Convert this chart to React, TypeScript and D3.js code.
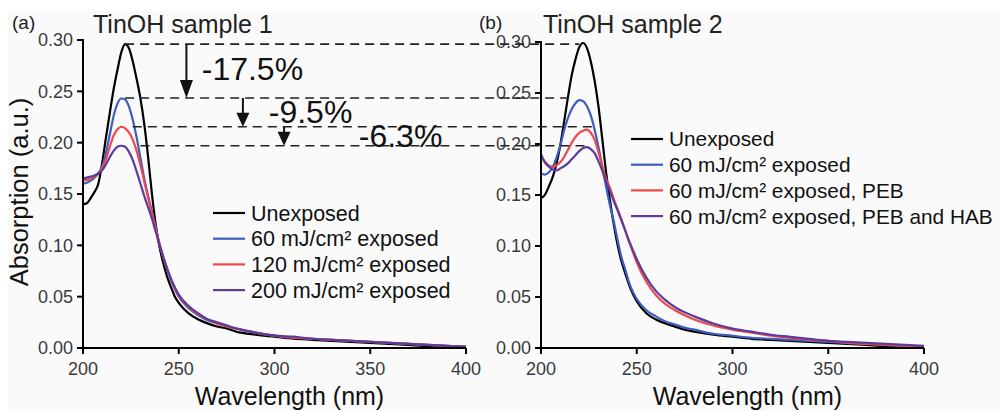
import React from "react";
import * as d3 from "d3";

const wl = [200, 202, 204, 206, 208, 210, 212, 214, 216, 218, 220, 222, 224, 226, 228, 230, 232, 234, 236, 238, 240, 242, 244, 246, 248, 250, 255, 260, 265, 270, 275, 280, 290, 300, 310, 320, 330, 340, 350, 360, 370, 380, 390, 400];

// Panel (a) TinOH sample 1
const a_unexposed = [0.140, 0.141, 0.146, 0.152, 0.160, 0.180, 0.205, 0.229, 0.252, 0.271, 0.288, 0.296, 0.292, 0.279, 0.262, 0.243, 0.218, 0.186, 0.150, 0.120, 0.098, 0.082, 0.069, 0.059, 0.050, 0.044, 0.034, 0.028, 0.024, 0.021, 0.019, 0.016, 0.013, 0.011, 0.009, 0.008, 0.007, 0.006, 0.005, 0.004, 0.003, 0.002, 0.0015, 0.001];
const a_60 = [0.160, 0.161, 0.163, 0.166, 0.170, 0.177, 0.190, 0.208, 0.226, 0.238, 0.243, 0.242, 0.235, 0.222, 0.205, 0.185, 0.165, 0.148, 0.133, 0.117, 0.101, 0.088, 0.076, 0.066, 0.057, 0.050, 0.039, 0.032, 0.027, 0.024, 0.021, 0.019, 0.015, 0.012, 0.010, 0.009, 0.008, 0.007, 0.006, 0.005, 0.004, 0.003, 0.002, 0.001];
const a_120 = [0.163, 0.164, 0.165, 0.167, 0.170, 0.175, 0.184, 0.196, 0.207, 0.213, 0.2155, 0.214, 0.210, 0.203, 0.192, 0.178, 0.162, 0.146, 0.131, 0.116, 0.101, 0.088, 0.077, 0.067, 0.058, 0.051, 0.040, 0.033, 0.028, 0.024, 0.021, 0.019, 0.015, 0.012, 0.010, 0.009, 0.008, 0.007, 0.006, 0.005, 0.004, 0.003, 0.002, 0.001];
const a_200 = [0.165, 0.166, 0.167, 0.168, 0.170, 0.173, 0.179, 0.186, 0.192, 0.196, 0.197, 0.196, 0.191, 0.183, 0.172, 0.160, 0.148, 0.137, 0.126, 0.113, 0.100, 0.088, 0.077, 0.067, 0.059, 0.052, 0.041, 0.034, 0.028, 0.025, 0.022, 0.019, 0.015, 0.012, 0.011, 0.009, 0.008, 0.007, 0.006, 0.005, 0.004, 0.003, 0.002, 0.001];

// Panel (b) TinOH sample 2
const b_unexposed = [0.147, 0.150, 0.158, 0.167, 0.180, 0.198, 0.221, 0.245, 0.267, 0.283, 0.295, 0.299, 0.294, 0.281, 0.262, 0.237, 0.205, 0.172, 0.145, 0.121, 0.101, 0.085, 0.073, 0.062, 0.053, 0.046, 0.034, 0.028, 0.024, 0.021, 0.018, 0.016, 0.013, 0.011, 0.009, 0.008, 0.007, 0.006, 0.005, 0.004, 0.003, 0.002, 0.0015, 0.001];
const b_60 = [0.171, 0.170, 0.172, 0.177, 0.186, 0.198, 0.213, 0.225, 0.234, 0.240, 0.243, 0.242, 0.237, 0.228, 0.214, 0.197, 0.178, 0.158, 0.140, 0.124, 0.106, 0.089, 0.077, 0.064, 0.055, 0.048, 0.037, 0.031, 0.026, 0.023, 0.020, 0.018, 0.014, 0.012, 0.010, 0.009, 0.008, 0.007, 0.006, 0.005, 0.004, 0.003, 0.002, 0.001];
const b_60peb = [0.188, 0.183, 0.179, 0.178, 0.179, 0.182, 0.187, 0.194, 0.201, 0.207, 0.211, 0.213, 0.214, 0.211, 0.204, 0.192, 0.178, 0.166, 0.157, 0.146, 0.136, 0.126, 0.115, 0.104, 0.094, 0.084, 0.065, 0.052, 0.043, 0.037, 0.032, 0.028, 0.022, 0.018, 0.015, 0.012, 0.010, 0.008, 0.007, 0.005, 0.004, 0.003, 0.002, 0.001];
const b_60pebhab = [0.190, 0.182, 0.178, 0.175, 0.174, 0.176, 0.178, 0.181, 0.185, 0.189, 0.193, 0.196, 0.197, 0.195, 0.191, 0.183, 0.174, 0.163, 0.154, 0.144, 0.135, 0.125, 0.115, 0.105, 0.096, 0.087, 0.069, 0.056, 0.047, 0.040, 0.035, 0.031, 0.024, 0.019, 0.016, 0.013, 0.011, 0.009, 0.007, 0.006, 0.005, 0.004, 0.003, 0.002];

const legendA = ["Unexposed", "60 mJ/cm² exposed", "120 mJ/cm² exposed", "200 mJ/cm² exposed"];
const legendB = ["Unexposed", "60 mJ/cm² exposed", "60 mJ/cm² exposed, PEB", "60 mJ/cm² exposed, PEB and HAB"];
const colors = ["#000000", "#3c5dbf", "#f0474a", "#5b3c9c"];

const yTicks = [0, 0.05, 0.1, 0.15, 0.2, 0.25, 0.3];
const xTicks = [200, 250, 300, 350, 400];

// annotation values (panel a)
const peakLevels = [0.296, 0.2435, 0.2155, 0.197];
const dashStartNm = [222, 222, 226, 230];
const dashEndNmB = [220, 217, 227, 223];
const arrowNm = [254, 283.5, 305];
const pctLabels = ["-17.5%", "-9.5%", "-6.3%"];
const pctLabelNm = [262, 297, 344];
const pctLabelVal = [0.261, 0.219, 0.196];

const FONT = "'Liberation Sans', Arial, Helvetica, sans-serif";

function Panel({ x, y, series, legend, legendX, legendY, legendSize, title, tag, tagX, titleX }: any) {
  const line = d3
    .line<number>()
    .x((_, i) => x(wl[i]))
    .y((v) => y(v))
    .curve(d3.curveMonotoneX);
  const [x0, x1] = x.range();
  const [y0, y1] = y.range();
  return (
    <g>
      {series.map((s: number[], i: number) => (
        <path key={i} d={line(s) || ""} fill="none" stroke={colors[i]} strokeWidth={2.2} strokeLinejoin="round" />
      ))}
      <line x1={x0} x2={x1} y1={y0} y2={y0} stroke="#000" strokeWidth={2} />
      <line x1={x0} x2={x0} y1={y0 + 1} y2={y1 - 1} stroke="#000" strokeWidth={2} />
      {yTicks.map((t) => (
        <g key={t}>
          <line x1={x0 - 6} x2={x0} y1={y(t)} y2={y(t)} stroke="#000" strokeWidth={2} />
          <text x={x0 - 10} y={y(t)} dy="0.36em" textAnchor="end" fontSize={18} fill="#3a3a3a" fontFamily={FONT}>
            {d3.format(".2f")(t)}
          </text>
        </g>
      ))}
      {xTicks.map((t) => (
        <g key={t}>
          <line x1={x(t)} x2={x(t)} y1={y0} y2={y0 + 6} stroke="#000" strokeWidth={2} />
          <text x={x(t)} y={y0 + 27} textAnchor="middle" fontSize={18} fill="#3a3a3a" fontFamily={FONT}>
            {t}
          </text>
        </g>
      ))}
      <text x={(x0 + x1) / 2 + 15} y={405} textAnchor="middle" fontSize={25} fill="#111" fontFamily={FONT}>
        Wavelength (nm)
      </text>
      <text x={tagX} y={29} fontSize={19} fill="#222" fontFamily={FONT}>{tag}</text>
      <text x={titleX} y={33} fontSize={25} fill="#222" fontFamily={FONT}>{title}</text>
      {legend.map((l: string, i: number) => (
        <g key={l}>
          <line x1={legendX} x2={legendX + 32} y1={legendY + i * 25.7} y2={legendY + i * 25.7} stroke={colors[i]} strokeWidth={2.2} />
          <text x={legendX + 38} y={legendY + i * 25.7} dy="0.36em" fontSize={legendSize} fill="#111" fontFamily={FONT}>{l}</text>
        </g>
      ))}
    </g>
  );
}

export default function App() {
  const xA = d3.scaleLinear().domain([200, 400]).range([83, 466]);
  const yA = d3.scaleLinear().domain([0, 0.3]).range([348, 40]);
  const xB = d3.scaleLinear().domain([200, 400]).range([541, 924]);
  const yB = d3.scaleLinear().domain([0, 0.3]).range([348, 42]);

  return (
    <svg width={1000} height={411} style={{ position: "absolute", left: 0, top: 0 }}>
      <rect x={8} y={11} width={992} height={400} fill="#fafafa" />
      <Panel x={xA} y={yA} series={[a_unexposed, a_60, a_120, a_200]} legend={legendA} legendX={213} legendY={213}
        legendSize={21.5} title="TinOH sample 1" tag="(a)" tagX={12} titleX={93} />
      <Panel x={xB} y={yB} series={[b_unexposed, b_60, b_60peb, b_60pebhab]} legend={legendB} legendX={631} legendY={139}
        legendSize={20.8} title="TinOH sample 2" tag="(b)" tagX={479} titleX={543} />
      <text transform={`translate(28, ${(yA(0) + yA(0.3)) / 2 - 2}) rotate(-90)`} textAnchor="middle" fontSize={25.5}
        fill="#111" fontFamily={FONT}>Absorption (a.u.)</text>
      {peakLevels.map((p, i) => (
        <line key={i} x1={xA(dashStartNm[i])} x2={xB(dashEndNmB[i])} y1={yA(p)} y2={yA(p)} stroke="#222"
          strokeWidth={1.6} strokeDasharray="9 6" />
      ))}
      {arrowNm.map((nm, i) => {
        const ax = xA(nm);
        const yt = yA(peakLevels[i]);
        const yb = yA(peakLevels[i + 1]);
        const head = i === 0 ? 18 : 14;
        return (
          <g key={i}>
            <line x1={ax} x2={ax} y1={yt} y2={yb - head + 2} stroke="#111" strokeWidth={2} />
            <path d={`M${ax - 6.5},${yb - head} L${ax + 6.5},${yb - head} L${ax},${yb} Z`} fill="#111" />
          </g>
        );
      })}
      {pctLabels.map((l, i) => (
        <text key={l} x={xA(pctLabelNm[i])} y={yA(pctLabelVal[i])} fontSize={32} fill="#111" fontFamily={FONT}>{l}</text>
      ))}
    </svg>
  );
}
